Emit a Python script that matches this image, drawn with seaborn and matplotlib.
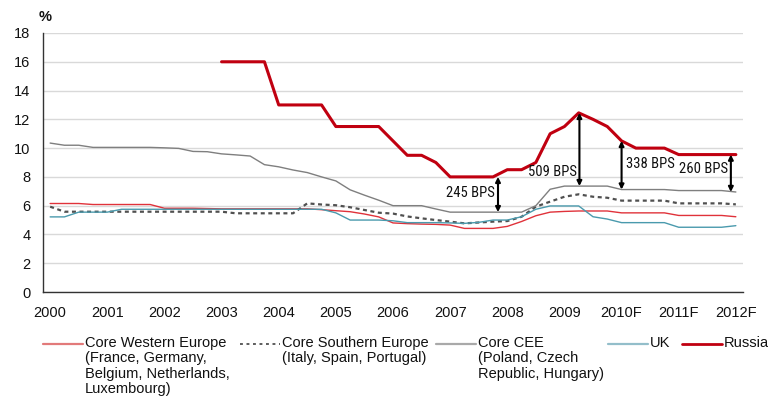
import numpy as np
import pandas as pd
import matplotlib
matplotlib.use("Agg")
import matplotlib.pyplot as plt
from matplotlib.lines import Line2D
from matplotlib import font_manager as fm
import seaborn as sns

# Quarterly observations, 2000Q1 .. 2012Q1
years = list(range(2000, 2013))
quarters = [f"{y}Q{q}" for y in years[:-1] for q in range(1, 5)] + [f"{years[-1]}Q1"]
year_labels = ["2000", "2001", "2002", "2003", "2004", "2005", "2006",
               "2007", "2008", "2009", "2010F", "2011F", "2012F"]

core_western = [6.15, 6.15, 6.15, 6.08, 6.08, 6.08, 6.08, 6.08, 5.82, 5.82,
                5.82, 5.80, 5.78, 5.78, 5.78, 5.78, 5.78, 5.78, 5.78, 5.72,
                5.65, 5.58, 5.42, 5.22, 4.80, 4.75, 4.72, 4.70, 4.65, 4.42,
                4.42, 4.42, 4.56, 4.90, 5.30, 5.55, 5.60, 5.63, 5.63, 5.63,
                5.50, 5.50, 5.50, 5.50, 5.32, 5.32, 5.32, 5.32, 5.23]

core_southern = [5.93, 5.58, 5.58, 5.58, 5.58, 5.58, 5.58, 5.58, 5.58, 5.58,
                 5.58, 5.58, 5.58, 5.47, 5.47, 5.47, 5.47, 5.47, 6.16, 6.08,
                 6.03, 5.89, 5.70, 5.51, 5.45, 5.25, 5.12, 5.00, 4.89, 4.77,
                 4.83, 4.89, 4.93, 5.23, 5.93, 6.28, 6.62, 6.79, 6.62, 6.55,
                 6.35, 6.35, 6.35, 6.35, 6.16, 6.16, 6.16, 6.16, 6.09]

core_cee = [10.35, 10.20, 10.20, 10.05, 10.05, 10.05, 10.05, 10.05, 10.02, 9.98,
            9.77, 9.75, 9.60, 9.53, 9.45, 8.85, 8.70, 8.48, 8.30, 8.00,
            7.72, 7.10, 6.73, 6.38, 6.00, 6.00, 6.00, 5.77, 5.55, 5.55,
            5.55, 5.55, 5.55, 5.55, 6.00, 7.14, 7.36, 7.36, 7.36, 7.36,
            7.12, 7.12, 7.12, 7.12, 7.05, 7.05, 7.05, 7.05, 6.95]

uk = [5.22, 5.22, 5.55, 5.55, 5.55, 5.75, 5.75, 5.75, 5.75, 5.75,
      5.75, 5.75, 5.75, 5.75, 5.75, 5.75, 5.75, 5.75, 5.75, 5.75,
      5.50, 5.00, 5.00, 5.00, 4.95, 4.82, 4.82, 4.82, 4.80, 4.77,
      4.84, 5.00, 5.00, 5.23, 5.75, 5.98, 5.98, 5.98, 5.23, 5.07,
      4.82, 4.82, 4.82, 4.82, 4.50, 4.50, 4.50, 4.50, 4.61]

russia = [np.nan] * 12 + [
    16.0, 16.0, 16.0, 16.0, 13.0, 13.0, 13.0, 13.0, 11.5, 11.5,
    11.5, 11.5, 10.5, 9.5, 9.5, 9.0, 8.0, 8.0, 8.0, 8.0,
    8.5, 8.5, 9.0, 11.0, 11.5, 12.45, 12.0, 11.5, 10.5, 10.0,
    10.0, 10.0, 9.55, 9.55, 9.55, 9.55, 9.55]

# Russia vs Core CEE spread markers
spread_quarters = ["2007Q4", "2009Q2", "2010Q1", "2012Q1"]

df = pd.DataFrame({
    "quarter": quarters,
    "Core Western Europe": core_western,
    "Core Southern Europe": core_southern,
    "Core CEE": core_cee,
    "UK": uk,
    "Russia": russia,
})
df["x"] = np.arange(len(df))

sns.set_style("white")
plt.rcParams["font.family"] = ["Liberation Sans", "DejaVu Sans"]
plt.rcParams["font.size"] = 10.5


def narrow_font():
    """Pick a condensed sans face for the spread labels, if one is installed."""
    entries = fm.fontManager.ttflist
    names = {f.name for f in entries}
    for fam in ["Liberation Sans Narrow", "Arial Narrow", "Roboto Condensed",
                "Open Sans Condensed", "Noto Sans Condensed", "DejaVu Sans Condensed"]:
        if fam in names:
            return dict(family=[fam, "Liberation Sans"], stretch="normal", size=10.5)
    for f in entries:
        if f.name in ("Roboto", "Noto Sans", "Open Sans", "DejaVu Sans") and \
                str(f.stretch) in ("condensed", "semi-condensed", "extra-condensed"):
            return dict(family=[f.name], stretch=f.stretch, size=10.5)
    return dict(family=["Liberation Sans"], size=9.0)


W, H = 768, 401
fig = plt.figure(figsize=(W / 100, H / 100), dpi=100)
ax = fig.add_axes([43 / W, 1 - 292 / H, 700 / W, 259 / H])

styles = {
    "Core Western Europe": dict(color="#E0323A", linewidth=1.0, linestyle="-"),
    "Core Southern Europe": dict(color="#505050", linewidth=1.6, linestyle=(0, (1.8, 1.6))),
    "Core CEE": dict(color="#7F7F7F", linewidth=1.0, linestyle="-"),
    "UK": dict(color="#4A9AAD", linewidth=1.0, linestyle="-"),
    "Russia": dict(color="#C00010", linewidth=2.2, linestyle="-"),
}
for name, st in styles.items():
    sub = df[["x", name]].dropna()
    sns.lineplot(data=sub, x="x", y=name, ax=ax, sort=False, legend=False,
                 color=st["color"], linewidth=st["linewidth"],
                 linestyle=st["linestyle"], zorder=3)

# spread arrows and labels
offsets = {"2007Q4": 0.35, "2009Q2": 0.05, "2010Q1": 0.0, "2012Q1": -0.35}
label_pos = {"2007Q4": (-2, 6.88, "right"), "2009Q2": (-2, 8.36, "right"),
             "2010Q1": (3, 8.9, "left"), "2012Q1": (-2, 8.53, "right")}
bps_font = narrow_font()
for q in spread_quarters:
    row = df[df["quarter"] == q].iloc[0]
    top, bottom = row["Russia"], row["Core CEE"]
    xa = row["x"] + offsets[q]
    ax.annotate("", xy=(xa, bottom), xytext=(xa, top),
                arrowprops=dict(arrowstyle="<|-|>", color="black", lw=1.5,
                                mutation_scale=7, shrinkA=0, shrinkB=0), zorder=5)
    dx, ty, ha = label_pos[q]
    bps = int(round((top - bottom) * 100))
    ax.annotate(f"{bps} BPS", xy=(xa, ty), xytext=(dx, 0), textcoords="offset points",
                ha=ha, va="center", color="#111111", zorder=6, **bps_font)

# axes styling
ax.set_xlim(-0.5, len(df) - 0.5)
ax.set_ylim(0, 18)
ax.set_yticks(range(0, 19, 2))
ax.set_xticks(np.arange(0, len(df), 4))
ax.set_xticklabels(year_labels)
ax.set_xticks(np.arange(-0.5, len(df) - 1, 4), minor=True)
ax.tick_params(axis="x", which="major", length=0, pad=10, labelsize=10.5, colors="#111111")
ax.tick_params(axis="x", which="minor", length=4, width=1, color="#333333", direction="inout")
ax.tick_params(axis="y", length=5, width=1, color="#333333", pad=4, labelsize=10.5,
               labelcolor="#111111", direction="out")
ax.set_xlabel("")
ax.set_ylabel("")
ax.yaxis.grid(True, color="#D9D9D9", linewidth=1.0, zorder=0)
ax.xaxis.grid(False)
ax.set_axisbelow(True)
for s in ["top", "right"]:
    ax.spines[s].set_visible(False)
for s in ["left", "bottom"]:
    ax.spines[s].set_color("#333333")
    ax.spines[s].set_linewidth(1.0)

fig.text(45 / W, 1 - 17 / H, "%", ha="center", va="center", fontsize=10.5,
         fontweight="bold", color="#111111")

# legend below the plot
legend_items = [
    ("Core Western Europe\n(France, Germany,\nBelgium, Netherlands,\nLuxembourg)",
     dict(color="#E27A7A", lw=1.6, ls="-"), 43),
    ("Core Southern Europe\n(Italy, Spain, Portugal)",
     dict(color="#505050", lw=1.3, ls=(0, (1.6, 2.0))), 240),
    ("Core CEE\n(Poland, Czech\nRepublic, Hungary)",
     dict(color="#A9A9A9", lw=1.6, ls="-"), 436),
    ("UK", dict(color="#93BECA", lw=1.6, ls="-"), 608),
    ("Russia", dict(color="#C00010", lw=2.0, ls="-"), 682),
]
for label, st, x0 in legend_items:
    yl = 1 - 344 / H
    fig.add_artist(Line2D([x0 / W, (x0 + 40) / W], [yl, yl], transform=fig.transFigure,
                          color=st["color"], lw=st["lw"], linestyle=st["ls"]))
    fig.text((x0 + 42) / W, 1 - 336 / H, label, ha="left", va="top",
             fontsize=10.5, linespacing=1.12, color="#111111")

fig.savefig("out.png", dpi=100)
